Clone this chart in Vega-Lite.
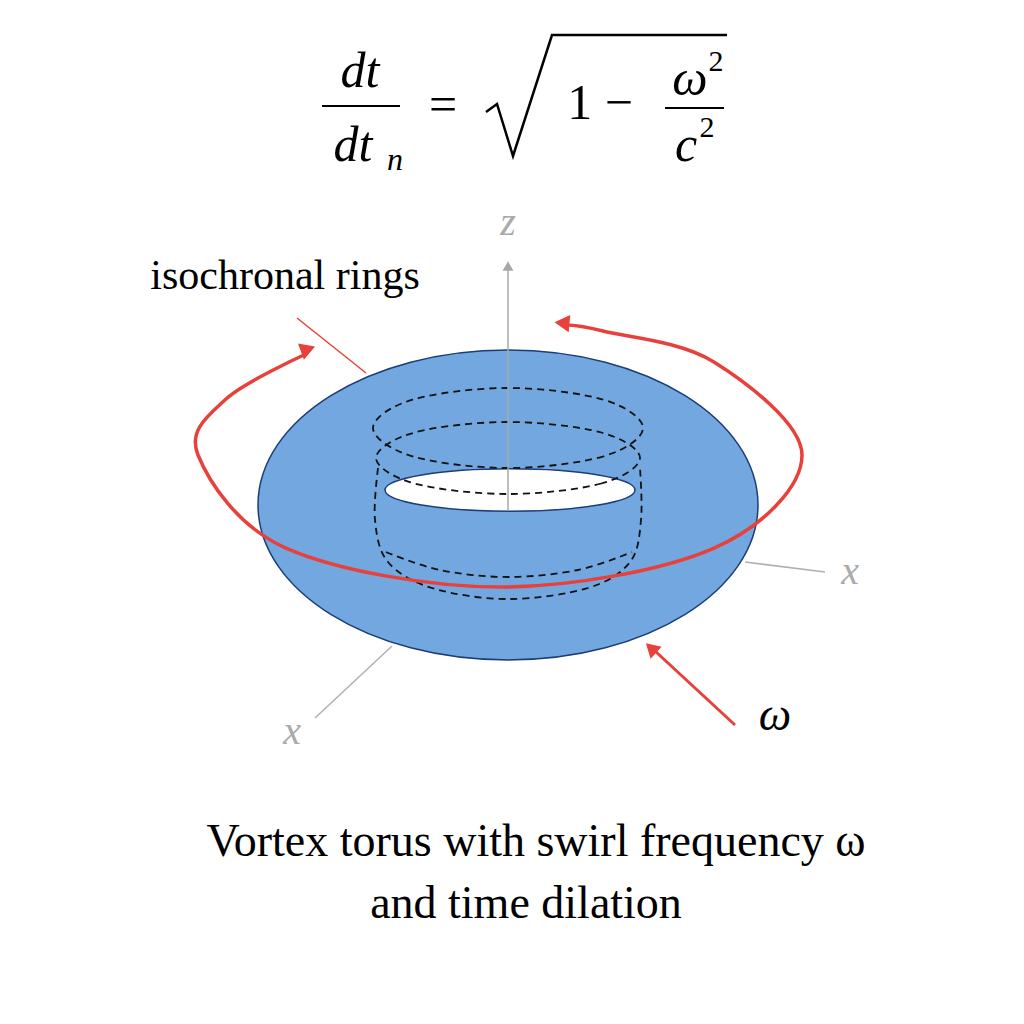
{
  "$schema": "https://vega.github.io/schema/vega-lite/v6.json",
  "width": 1024,
  "height": 1024,
  "autosize": {"type": "fit", "contains": "padding"},
  "padding": 0,
  "background": "white",
  "config": {"view": {"stroke": null}, "font": "Liberation Serif"},
  "encoding": {
    "x": {"field": "x", "type": "quantitative", "scale": {"domain": [0, 1024], "nice": false, "zero": false}, "axis": null},
    "y": {"field": "y", "type": "quantitative", "scale": {"domain": [0, 1024], "nice": false, "zero": false, "reverse": true}, "axis": null}
  },
  "layer": [
    {
      "data": {"values": [
        {"g": "x1", "o": 1, "x": 745, "y": 562}, {"g": "x1", "o": 2, "x": 825, "y": 572},
        {"g": "x2", "o": 1, "x": 392, "y": 646}, {"g": "x2", "o": 2, "x": 315, "y": 718}
      ]},
      "mark": {"type": "line", "color": "#b0b0b0", "strokeWidth": 1.5},
      "encoding": {"detail": {"field": "g"}, "order": {"field": "o"}}
    },
    {
      "data": {"values": [{"x": 508, "y": 505}]},
      "mark": {"type": "point", "filled": true, "shape": "M-1,0 A1,0.62 0 1,1 1,0 A1,0.62 0 1,1 -1,0 Z", "size": 250000, "fill": "#72a8df", "fillOpacity": 1, "stroke": "#1d3c78", "strokeWidth": 1.5, "opacity": 1}
    },
    {
      "data": {"values": [{"x": 510, "y": 490}]},
      "mark": {"type": "point", "filled": true, "shape": "M-1,0 A1,0.17 0 1,1 1,0 A1,0.17 0 1,1 -1,0 Z", "size": 62500, "fill": "white", "fillOpacity": 1, "stroke": "#1d3c78", "strokeWidth": 1.5, "opacity": 1}
    },
    {
      "data": {"values": [
        {"g": "r1", "o": 1, "x": 643, "y": 428}, {"g": "r1", "o": 2, "x": 603.5, "y": 456.3}, {"g": "r1", "o": 3, "x": 508, "y": 468}, {"g": "r1", "o": 4, "x": 412.5, "y": 456.3},
        {"g": "r1", "o": 5, "x": 373, "y": 428}, {"g": "r1", "o": 6, "x": 412.5, "y": 399.7}, {"g": "r1", "o": 7, "x": 508, "y": 388}, {"g": "r1", "o": 8, "x": 603.5, "y": 399.7},
        {"g": "r2", "o": 1, "x": 640, "y": 458}, {"g": "r2", "o": 2, "x": 601.3, "y": 483.5}, {"g": "r2", "o": 3, "x": 508, "y": 494}, {"g": "r2", "o": 4, "x": 414.7, "y": 483.5},
        {"g": "r2", "o": 5, "x": 376, "y": 458}, {"g": "r2", "o": 6, "x": 414.7, "y": 432.5}, {"g": "r2", "o": 7, "x": 508, "y": 422}, {"g": "r2", "o": 8, "x": 601.3, "y": 432.5}
      ]},
      "mark": {"type": "line", "interpolate": "cardinal-closed", "color": "#111111", "strokeWidth": 1.8, "strokeDash": [7, 5]},
      "encoding": {"detail": {"field": "g"}, "order": {"field": "o"}}
    },
    {
      "data": {"values": [
        {"g": "a1", "o": 1, "x": 378, "y": 468}, {"g": "a1", "o": 2, "x": 375, "y": 520}, {"g": "a1", "o": 3, "x": 388, "y": 562}, {"g": "a1", "o": 4, "x": 432, "y": 588},
        {"g": "a1", "o": 5, "x": 508, "y": 599}, {"g": "a1", "o": 6, "x": 588, "y": 588}, {"g": "a1", "o": 7, "x": 630, "y": 562}, {"g": "a1", "o": 8, "x": 641, "y": 520}, {"g": "a1", "o": 9, "x": 640, "y": 468},
        {"g": "a2", "o": 1, "x": 386, "y": 552}, {"g": "a2", "o": 2, "x": 440, "y": 570}, {"g": "a2", "o": 3, "x": 508, "y": 577}, {"g": "a2", "o": 4, "x": 578, "y": 570}, {"g": "a2", "o": 5, "x": 632, "y": 552}
      ]},
      "mark": {"type": "line", "interpolate": "cardinal", "color": "#111111", "strokeWidth": 1.8, "strokeDash": [7, 5]},
      "encoding": {"detail": {"field": "g"}, "order": {"field": "o"}}
    },
    {
      "data": {"values": [{"o": 1, "x": 508, "y": 510}, {"o": 2, "x": 508, "y": 268}]},
      "mark": {"type": "line", "color": "#a8a8a8", "strokeWidth": 1.5},
      "encoding": {"order": {"field": "o"}}
    },
    {
      "data": {"values": [{"x": 508, "y": 266}]},
      "mark": {"type": "point", "shape": "triangle-up", "filled": true, "color": "#a8a8a8", "size": 120, "opacity": 1}
    },
    {
      "data": {"values": [
        {"o": 1, "x": 306, "y": 354}, {"o": 2, "x": 226, "y": 399}, {"o": 3, "x": 198, "y": 455}, {"o": 4, "x": 286.5, "y": 548.3},
        {"o": 5, "x": 500, "y": 587}, {"o": 6, "x": 713.5, "y": 548.3}, {"o": 7, "x": 802, "y": 455}, {"o": 8, "x": 713.5, "y": 361.7},
        {"o": 9, "x": 603, "y": 331}, {"o": 10, "x": 566, "y": 325}
      ]},
      "mark": {"type": "line", "interpolate": "cardinal", "color": "#e8403a", "strokeWidth": 3.5},
      "encoding": {"order": {"field": "o"}}
    },
    {
      "data": {"values": [{"o": 1, "x": 297, "y": 318}, {"o": 2, "x": 366, "y": 373}]},
      "mark": {"type": "line", "color": "#e8403a", "strokeWidth": 1.5},
      "encoding": {"order": {"field": "o"}}
    },
    {
      "data": {"values": [{"o": 1, "x": 735, "y": 725}, {"o": 2, "x": 655, "y": 651}]},
      "mark": {"type": "line", "color": "#e8403a", "strokeWidth": 3},
      "encoding": {"order": {"field": "o"}}
    },
    {
      "data": {"values": [{"x": 308, "y": 349}]},
      "mark": {"type": "point", "shape": "triangle-up", "filled": true, "color": "#e8403a", "size": 300, "angle": 70, "opacity": 1}
    },
    {
      "data": {"values": [{"x": 562, "y": 323}]},
      "mark": {"type": "point", "shape": "triangle-up", "filled": true, "color": "#e8403a", "size": 300, "angle": 275, "opacity": 1}
    },
    {
      "data": {"values": [{"x": 651, "y": 648}]},
      "mark": {"type": "point", "shape": "triangle-up", "filled": true, "color": "#e8403a", "size": 260, "angle": 313, "opacity": 1}
    },
    {
      "data": {"values": [{"o": 1, "x": 486, "y": 112}, {"o": 2, "x": 497, "y": 104}, {"o": 3, "x": 513, "y": 156}, {"o": 4, "x": 552, "y": 35}, {"o": 5, "x": 727, "y": 35}]},
      "mark": {"type": "line", "color": "black", "strokeWidth": 2.5},
      "encoding": {"order": {"field": "o"}}
    },
    {
      "data": {"values": [{"x": 322, "x2": 400, "y": 106}, {"x": 665, "x2": 724, "y": 108}]},
      "mark": {"type": "rule", "color": "black", "strokeWidth": 2},
      "encoding": {"x2": {"field": "x2"}}
    },
    {
      "data": {"values": [{"t": "dt", "x": 360, "y": 72}, {"t": "dt", "x": 353, "y": 146}, {"t": "ω", "x": 690, "y": 80}, {"t": "c", "x": 686, "y": 146}]},
      "mark": {"type": "text", "font": "Liberation Serif", "fontStyle": "italic", "fontSize": 50, "align": "center", "baseline": "middle"},
      "encoding": {"text": {"field": "t"}}
    },
    {
      "data": {"values": [{"t": "n", "x": 395, "y": 160}]},
      "mark": {"type": "text", "font": "Liberation Serif", "fontStyle": "italic", "fontSize": 32, "align": "center", "baseline": "middle"},
      "encoding": {"text": {"field": "t"}}
    },
    {
      "data": {"values": [{"t": "2", "x": 716, "y": 62}, {"t": "2", "x": 707, "y": 128}]},
      "mark": {"type": "text", "font": "Liberation Serif", "fontSize": 30, "align": "center", "baseline": "middle"},
      "encoding": {"text": {"field": "t"}}
    },
    {
      "data": {"values": [{"t": "=", "x": 443, "y": 106}, {"t": "1 −", "x": 600, "y": 104}]},
      "mark": {"type": "text", "font": "Liberation Serif", "fontSize": 50, "align": "center", "baseline": "middle"},
      "encoding": {"text": {"field": "t"}}
    },
    {
      "data": {"values": [{"t": "z", "x": 508, "y": 223}, {"t": "x", "x": 850, "y": 572}, {"t": "x", "x": 292, "y": 732}]},
      "mark": {"type": "text", "font": "Liberation Serif", "fontStyle": "italic", "fontSize": 40, "color": "#aaaaaa", "align": "center", "baseline": "middle"},
      "encoding": {"text": {"field": "t"}}
    },
    {
      "data": {"values": [{"t": "ω", "x": 775, "y": 716}]},
      "mark": {"type": "text", "font": "Liberation Serif", "fontStyle": "italic", "fontSize": 46, "align": "center", "baseline": "middle"},
      "encoding": {"text": {"field": "t"}}
    },
    {
      "data": {"values": [{"t": "isochronal rings", "x": 285, "y": 276}]},
      "mark": {"type": "text", "font": "Liberation Serif", "fontSize": 42, "align": "center", "baseline": "middle"},
      "encoding": {"text": {"field": "t"}}
    },
    {
      "data": {"values": [{"t": "Vortex torus with swirl frequency ω", "x": 536, "y": 842}, {"t": "and time dilation", "x": 526, "y": 904}]},
      "mark": {"type": "text", "font": "Liberation Serif", "fontSize": 46, "align": "center", "baseline": "middle"},
      "encoding": {"text": {"field": "t"}}
    }
  ]
}
